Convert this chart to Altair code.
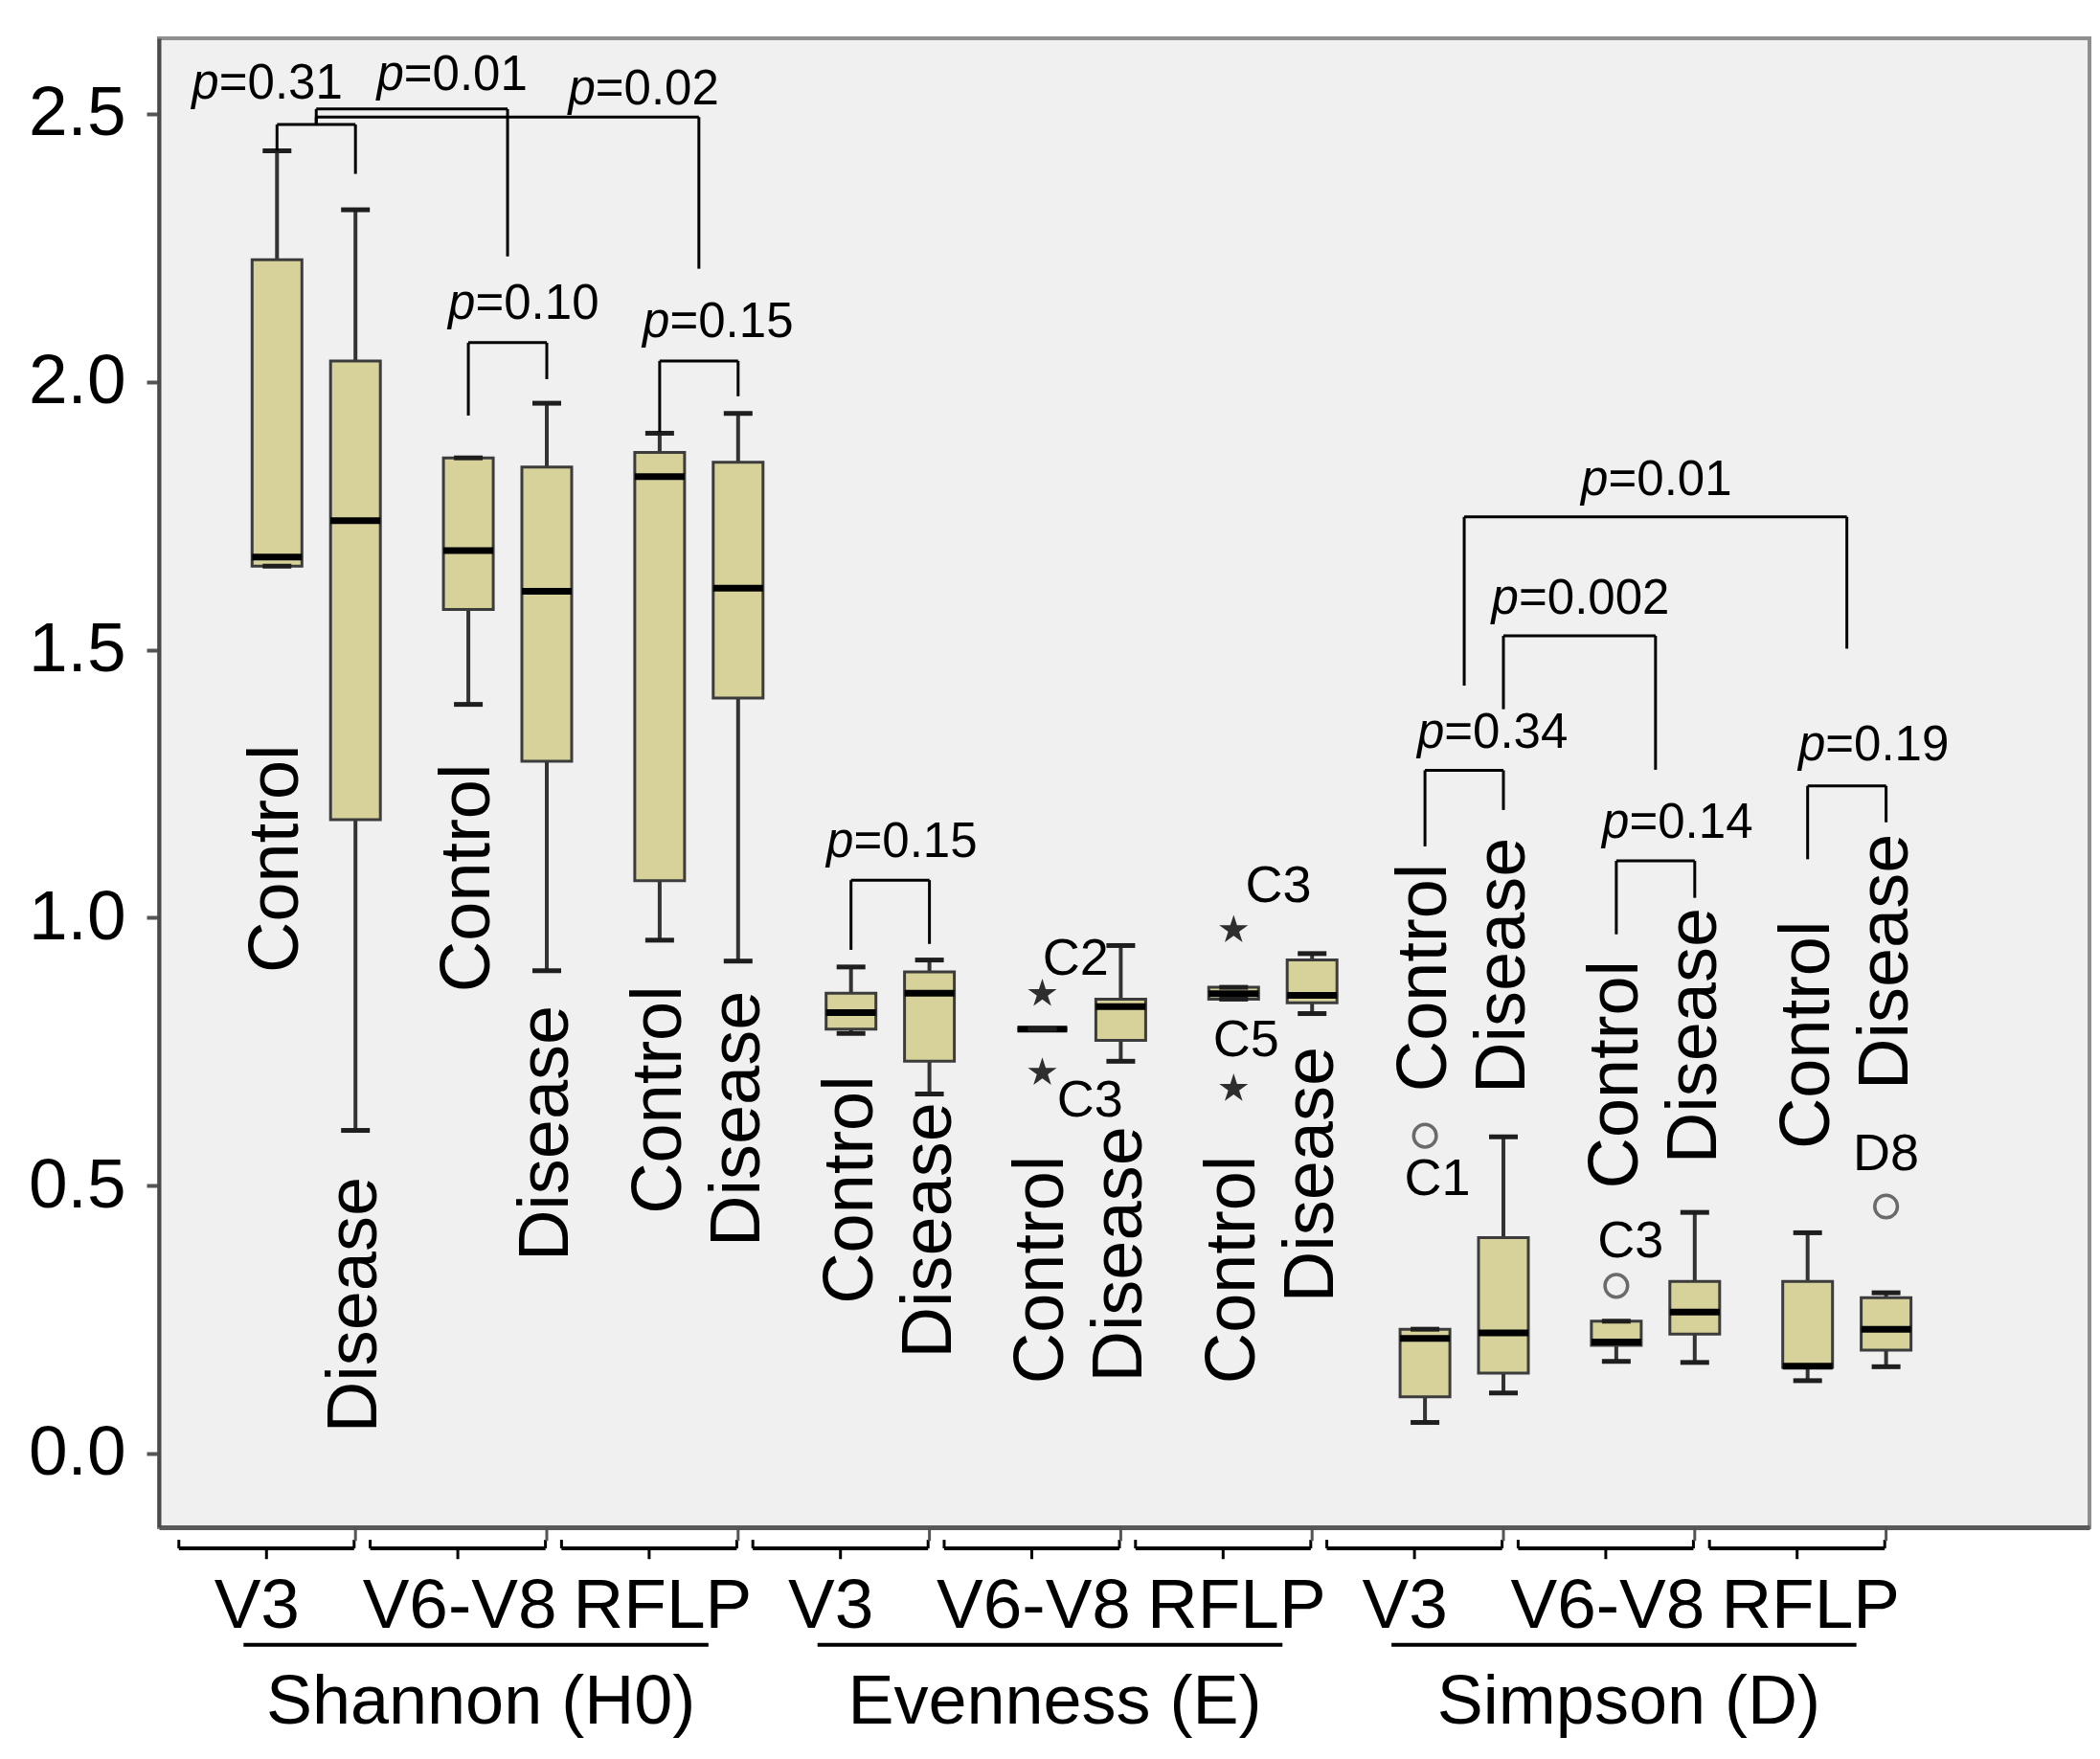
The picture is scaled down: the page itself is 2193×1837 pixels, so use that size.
import altair as alt
import pandas as pd

FONT = "Liberation Sans"

# ---------------- data ----------------
metrics = ["Shannon (H0)", "Evenness (E)", "Simpson (D)"]
regions = ["V3", "V6-V8", "RFLP"]
conditions = ["Control", "Disease"]

# 18 boxes: metric -> region -> condition
whisker_low  = [1.656, 0.603, 1.398, 0.901, 0.958, 0.919, 0.784, 0.671, 0.792, 0.732, 0.848, 0.821, 0.058, 0.113, 0.172, 0.170, 0.136, 0.162]
q1           = [1.656, 1.183, 1.575, 1.292, 1.069, 1.410, 0.792, 0.732, 0.792, 0.771, 0.848, 0.841, 0.106, 0.150, 0.202, 0.223, 0.161, 0.193]
median       = [1.673, 1.741, 1.685, 1.609, 1.823, 1.615, 0.823, 0.859, 0.792, 0.834, 0.858, 0.855, 0.215, 0.225, 0.208, 0.264, 0.163, 0.232]
q3           = [2.228, 2.039, 1.858, 1.841, 1.868, 1.850, 0.859, 0.899, 0.792, 0.848, 0.870, 0.921, 0.232, 0.403, 0.247, 0.321, 0.321, 0.291]
whisker_high = [2.431, 2.321, 1.858, 1.960, 1.904, 1.941, 0.908, 0.921, 0.792, 0.948, 0.870, 0.933, 0.232, 0.591, 0.247, 0.450, 0.412, 0.300]
# value at which each vertical "Control"/"Disease" label starts
label_start  = [0.897, 0.039, 0.861, 0.359, 0.447, 0.386, 0.279, 0.178, 0.130, 0.133, 0.130, 0.282, 0.675, 0.672, 0.494, 0.541, 0.568, 0.679]

# outliers / extremes
out_box     = [8, 8, 10, 10, 12, 14, 17]
out_value   = [0.858, 0.711, 0.977, 0.681, 0.593, 0.313, 0.461]
out_kind    = ["extreme", "extreme", "extreme", "extreme", "outlier", "outlier", "outlier"]
out_label   = ["C2", "C3", "C3", "C5", "C1", "C3", "D8"]
out_label_dx = [0.174, 0.249, 0.234, 0.065, 0.065, 0.075, 0.0]
out_label_y = [0.893, 0.629, 1.029, 0.742, 0.482, 0.366, 0.529]

# p-value comparisons
p_values   = ["0.31", "0.01", "0.02", "0.10", "0.15", "0.15", "0.01", "0.002", "0.34", "0.14", "0.19"]
p_from_g   = [1, 1, 1, 2, 3, 4, 7, 7, 7, 8, 9]
p_from_s   = ["Control", "Both", "Both", "Control", "Control", "Control", "Both", "Disease", "Control", "Control", "Control"]
p_to_g     = [1, 2, 3, 2, 3, 4, 9, 8, 7, 8, 9]
p_to_s     = ["Disease", "Both", "Both", "Disease", "Disease", "Disease", "Both", "Both", "Disease", "Disease", "Disease"]
p_bar      = [2.480, 2.509, 2.494, 2.073, 2.039, 1.070, 1.748, 1.526, 1.275, 1.106, 1.246]
p_left_end = [2.432, 2.480, 2.480, 1.937, 1.906, 0.940, 1.433, 1.389, 1.133, 0.969, 1.109]
p_right_end = [2.388, 2.234, 2.211, 2.005, 1.973, 0.951, 1.502, 1.276, 1.201, 1.037, 1.178]
p_label_x  = [0.492, 1.458, 2.459, 1.832, 2.848, 3.809, 7.753, 7.285, 6.896, 7.863, 8.888]
p_label_y  = [2.529, 2.545, 2.518, 2.118, 2.084, 1.113, 1.789, 1.567, 1.317, 1.149, 1.294]

# ---------------- tables ----------------
rows = []
i = 0
for mi, m in enumerate(metrics):
    for ri, r in enumerate(regions):
        for c in conditions:
            rows.append(dict(metric=m, region=r, condition=c, g=mi * 3 + ri + 1,
                             whisker_low=whisker_low[i], q1=q1[i], median=median[i],
                             q3=q3[i], whisker_high=whisker_high[i], label_start=label_start[i]))
            i += 1
box_df = pd.DataFrame(rows)

out_df = pd.DataFrame(dict(
    g=[box_df.loc[b, "g"] for b in out_box],
    condition=[box_df.loc[b, "condition"] for b in out_box],
    value=out_value, kind=out_kind, label=out_label,
    label_dx=out_label_dx, label_y=out_label_y))

p_df = pd.DataFrame(dict(p=p_values, ga=p_from_g, sa=p_from_s, gb=p_to_g, sb=p_to_s,
                         bar=p_bar, left_end=p_left_end, right_end=p_right_end,
                         label_x=p_label_x, label_y=p_label_y))

grp_df = pd.DataFrame([dict(g=mi * 3 + ri + 1, ri=ri, region=r, metric=m)
                       for mi, m in enumerate(metrics) for ri, r in enumerate(regions)])
met_df = pd.DataFrame([dict(gm=mi * 3 + 2, metric=m) for mi, m in enumerate(metrics)])

# ---------------- scales / axes ----------------
XS = alt.Scale(domain=[0.203, 10.243], nice=False, zero=False)
YS = alt.Scale(domain=[-0.1376, 2.641], nice=False, zero=False)
x_axis = alt.Axis(labels=False, ticks=False, title=None, grid=False,
                  domainColor="#5a5a5a", domainWidth=5)
y_axis = alt.Axis(values=[0, 0.5, 1.0, 1.5, 2.0, 2.5], format=".1f", title=None, grid=False,
                  tickSize=13, tickWidth=4, tickColor="#555555",
                  labelFontSize=73, labelFont=FONT, labelColor="#000000", labelPadding=22,
                  domainColor="#4a4a4a", domainWidth=4)


def X(f):
    return alt.X(f"{f}:Q", scale=XS, axis=x_axis)


def Y(f):
    return alt.Y(f"{f}:Q", scale=YS, axis=y_axis)


OFF = "(datum.condition == 'Control' ? -0.205 : 0.205)"

# ---------------- boxes ----------------
base = alt.Chart(box_df).transform_calculate(xc="datum.g + " + OFF)

whisk = base.mark_rule(color="#333333", strokeWidth=4).encode(
    x=X("xc"), y=Y("whisker_low"), y2=alt.Y2("whisker_high"))
bars = base.mark_bar(orient="vertical", size=52, fill="#d7d29a", stroke="#3c3c3c",
                     strokeWidth=3, opacity=1).encode(
    x=X("xc"), y=Y("q1"), y2=alt.Y2("q3"))
med = base.mark_tick(orient="horizontal", size=52, thickness=7, color="#000000", opacity=1).encode(
    x=X("xc"), y=Y("median"))
cap_lo = base.mark_tick(orient="horizontal", size=30, thickness=5, color="#1e1e1e", opacity=1).encode(
    x=X("xc"), y=Y("whisker_low"))
cap_hi = base.mark_tick(orient="horizontal", size=30, thickness=5, color="#1e1e1e", opacity=1).encode(
    x=X("xc"), y=Y("whisker_high"))
cond_lab = base.mark_text(angle=270, align="left", baseline="middle", fontSize=74,
                          font=FONT, color="#000000").encode(
    x=X("xc"), y=Y("label_start"), text="condition:N")

# ---------------- outliers ----------------
STAR = ("M0,-1L0.2245,-0.309L0.951,-0.309L0.363,0.118L0.588,0.809L0,0.382"
        "L-0.588,0.809L-0.363,0.118L-0.951,-0.309L-0.2245,-0.309Z")
ob = alt.Chart(out_df).transform_calculate(xc="datum.g + " + OFF, lx="datum.g + " + OFF + " + datum.label_dx")
stars = ob.transform_filter("datum.kind == 'extreme'").mark_point(
    shape=STAR, size=1000, filled=True, color="#2e2e2e", opacity=1).encode(x=X("xc"), y=Y("value"))
circles = ob.transform_filter("datum.kind == 'outlier'").mark_point(
    shape="circle", size=560, filled=False, stroke="#6a6a6a", strokeWidth=3.5, opacity=1).encode(
    x=X("xc"), y=Y("value"))
out_lab = ob.mark_text(fontSize=54, font=FONT, align="center", baseline="alphabetic",
                       color="#000000").encode(x=X("lx"), y=Y("label_y"), text="label:N")

# ---------------- p-value brackets ----------------
pb = alt.Chart(p_df).transform_calculate(
    xa="datum.ga + (datum.sa == 'Control' ? -0.205 : (datum.sa == 'Disease' ? 0.205 : 0))",
    xb="datum.gb + (datum.sb == 'Control' ? -0.205 : (datum.sb == 'Disease' ? 0.205 : 0))",
    rest="'=' + datum.p")
hbar = pb.mark_rule(color="#000000", strokeWidth=3).encode(x=X("xa"), x2=alt.X2("xb"), y=Y("bar"))
lleg = pb.mark_rule(color="#000000", strokeWidth=3).encode(x=X("xa"), y=Y("bar"), y2=alt.Y2("left_end"))
rleg = pb.mark_rule(color="#000000", strokeWidth=3).encode(x=X("xb"), y=Y("bar"), y2=alt.Y2("right_end"))
p_it = pb.mark_text(text="p", fontStyle="italic", align="right", baseline="alphabetic",
                    fontSize=51, font=FONT, color="#000000").encode(x=X("label_x"), y=Y("label_y"))
p_rest = pb.mark_text(align="left", baseline="alphabetic", fontSize=51, font=FONT,
                      color="#000000").encode(x=X("label_x"), y=Y("label_y"), text="rest:N")

# ---------------- bottom group brackets ----------------
gb = alt.Chart(grp_df).transform_calculate(
    bc="datum.g - 0.26", bl="datum.g - 0.718", br="datum.g + 0.198", bt="datum.g + 0.205",
    lx="datum.g - 0.31 + 0.06 * datum.ri",
    y_top="-0.161", y_bar="-0.177", y_tick="-0.197", y_ax="-0.1376", y_axt="-0.163", y_lab="-0.325")
g_h = gb.mark_rule(color="#000000", strokeWidth=4).encode(x=X("bl"), x2=alt.X2("br"), y=Y("y_bar"))
g_l = gb.mark_rule(color="#000000", strokeWidth=3).encode(x=X("bl"), y=Y("y_top"), y2=alt.Y2("y_bar"))
g_r = gb.mark_rule(color="#000000", strokeWidth=3).encode(x=X("br"), y=Y("y_top"), y2=alt.Y2("y_bar"))
g_c = gb.mark_rule(color="#000000", strokeWidth=3).encode(x=X("bc"), y=Y("y_bar"), y2=alt.Y2("y_tick"))
g_ax = gb.mark_rule(color="#555555", strokeWidth=3).encode(x=X("bt"), y=Y("y_ax"), y2=alt.Y2("y_axt"))
g_lab = gb.mark_text(fontSize=73, font=FONT, align="center", baseline="alphabetic",
                     color="#000000").encode(x=X("lx"), y=Y("y_lab"), text="region:N")

mb = alt.Chart(met_df).transform_calculate(
    ul="datum.gm - 1.38", ur="datum.gm + 1.05", tx="datum.gm - 0.14",
    y_ul="-0.357", y_t="-0.504")
m_line = mb.mark_rule(color="#000000", strokeWidth=4).encode(x=X("ul"), x2=alt.X2("ur"), y=Y("y_ul"))
m_lab = mb.mark_text(fontSize=72, font=FONT, align="center", baseline="alphabetic",
                     color="#000000").encode(x=X("tx"), y=Y("y_t"), text="metric:N")

chart = alt.layer(
    whisk, bars, med, cap_lo, cap_hi, cond_lab,
    stars, circles, out_lab,
    hbar, lleg, rleg, p_it, p_rest,
    g_h, g_l, g_r, g_c, g_ax, g_lab, m_line, m_lab,
).properties(
    width=2016, height=1555,
    autosize=alt.AutoSizeParams(type="none"),
    padding={"left": 158, "top": 32, "right": 3, "bottom": 230},
    background="#ffffff",
).configure_view(
    fill="#f0f0f0", stroke="#8f8f8f", strokeWidth=4
)

chart.save("out.html", embed_options={"renderer": "svg", "actions": False})
